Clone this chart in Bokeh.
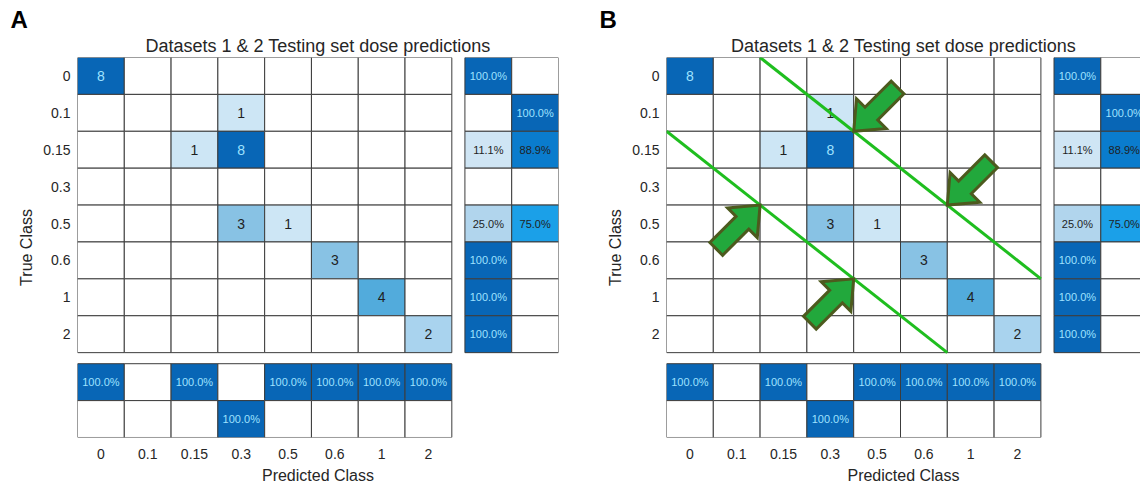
import numpy as np
from bokeh.plotting import figure
from bokeh.layouts import row
from bokeh.models import ColumnDataSource, FixedTicker, Range1d, Title
from bokeh.core.properties import value
from bokeh.embed import file_html
from bokeh.resources import INLINE

# ---------------- data ----------------
classes = ["0", "0.1", "0.15", "0.3", "0.5", "0.6", "1", "2"]
# counts[true class row][predicted class column]
counts = [
    [8, 0, 0, 0, 0, 0, 0, 0],
    [0, 0, 0, 1, 0, 0, 0, 0],
    [0, 0, 1, 8, 0, 0, 0, 0],
    [0, 0, 0, 0, 0, 0, 0, 0],
    [0, 0, 0, 3, 1, 0, 0, 0],
    [0, 0, 0, 0, 0, 3, 0, 0],
    [0, 0, 0, 0, 0, 0, 4, 0],
    [0, 0, 0, 0, 0, 0, 0, 2],
]
row_correct = [100.0, None, 11.1, None, 25.0, 100.0, 100.0, 100.0]
row_incorrect = [None, 100.0, 88.9, None, 75.0, None, None, None]
col_correct = [100.0, None, 100.0, None, 100.0, 100.0, 100.0, 100.0]
col_incorrect = [None, None, None, 100.0, None, None, None, None]
title_text = "Datasets 1 & 2 Testing set dose predictions"
panel_letters = ["A", "B"]
band_offsets = [-2, 2]            # guide lines: row = col + offset (panel B)
arrow_tips_upper = [(4, 2), (6, 4)]   # arrows pointing down-left onto upper guide
arrow_tips_lower = [(2, 4), (4, 6)]   # arrows pointing up-right onto lower guide

# ---------------- style ----------------
CW, CH = 46.8, 36.9          # pixel size of one cell
GAP_X, GAP_Y = 0.28, 0.30    # gap between matrix and summaries (cell units)
N = len(classes)
BORDER = "#3c3c3c"
DARK_TXT = "#1f1f1f"
LIGHT_TXT = "#9fe2ff"
FONT = "Liberation Sans"


def hex2rgb(h):
    h = h.lstrip("#")
    return np.array([int(h[i:i + 2], 16) for i in (0, 2, 4)], dtype=float)


def interp_color(v, stops):
    xs = [s[0] for s in stops]
    rgbs = np.array([hex2rgb(s[1]) for s in stops])
    rgb = [np.interp(v, xs, rgbs[:, k]) for k in range(3)]
    return "#%02x%02x%02x" % tuple(int(round(c)) for c in rgb)


count_stops = [(0, "#ffffff"), (0.125, "#cde6f5"), (0.25, "#a9d3ee"),
               (0.375, "#88c2e4"), (0.5, "#52abdc"), (1.0, "#0866b6")]
pct_stops = [(0, "#ffffff"), (11.1, "#cfe5f4"), (25, "#b1d5ed"),
             (75, "#1ba0e8"), (88.9, "#0a7ccd"), (100, "#0866b6")]


def make_panel(letter, width, mb_left, mb_right, x_end, guides, title_offset):
    p = figure(width=width, height=486,
               x_range=Range1d(0, x_end), y_range=Range1d(N + 2 + GAP_Y, 0),
               output_backend="svg", toolbar_location=None, title=letter,
               min_border_left=mb_left, min_border_right=mb_right,
               min_border_top=57, min_border_bottom=49)
    p.outline_line_color = None
    p.grid.visible = False
    p.background_fill_color = "white"
    p.border_fill_color = "white"

    # panel letter (outermost title row)
    p.title.text_font = FONT
    p.title.text_font_size = "24px"
    p.title.text_font_style = "bold"
    p.title.text_color = "black"
    p.title.align = "left"
    p.title.offset = -67
    p.title.standoff = 0

    # chart title (closest to the frame)
    p.add_layout(Title(text=title_text, align="center", offset=title_offset,
                       text_font=FONT, text_font_size="18px",
                       text_font_style="normal", text_color="#262626",
                       standoff=3), "above")

    ticks = [i + 0.5 for i in range(N)]
    overrides = {t: c for t, c in zip(ticks, classes)}
    for ax, lab in ((p.xaxis, "Predicted Class"), (p.yaxis, "True Class")):
        ax.ticker = FixedTicker(ticks=ticks)
        ax.major_label_overrides = overrides
        ax.axis_line_color = None
        ax.major_tick_line_color = None
        ax.minor_tick_line_color = None
        ax.major_tick_out = 0
        ax.major_label_text_font = FONT
        ax.major_label_text_font_size = "14px"
        ax.major_label_text_color = "#262626"
        ax.axis_label = lab
        ax.axis_label_text_font = FONT
        ax.axis_label_text_font_size = "16px"
        ax.axis_label_text_font_style = "normal"
        ax.axis_label_text_color = "#262626"
    p.xaxis.major_label_standoff = 11
    p.xaxis.axis_label_standoff = 5
    p.yaxis.major_label_standoff = 7
    p.yaxis.axis_label_standoff = 5

    # main matrix
    cmax = max(max(r) for r in counts)
    xs, ys, cols, txt, tcol, tx, ty = [], [], [], [], [], [], []
    for i in range(N):
        for j in range(N):
            v = counts[i][j]
            xs.append(j + 0.5)
            ys.append(i + 0.5)
            cols.append(interp_color(v / cmax, count_stops))
            if v > 0:
                tx.append(j + 0.5)
                ty.append(i + 0.5)
                txt.append(str(v))
                tcol.append(LIGHT_TXT if v / cmax >= 0.75 else DARK_TXT)
    p.rect(x="x", y="y", width=1, height=1, fill_color="c", line_color=BORDER,
           line_width=1, source=ColumnDataSource(dict(x=xs, y=ys, c=cols)))
    p.text(x="x", y="y", text="t", text_color="tc", text_align="center",
           text_baseline="middle", text_font=value(FONT), text_font_size="14px",
           source=ColumnDataSource(dict(x=tx, y=ty, t=txt, tc=tcol)))

    # summaries
    sx, sy, sc, st, stc, stx, sty = [], [], [], [], [], [], []

    def add(x, y, v):
        sx.append(x)
        sy.append(y)
        sc.append(interp_color(v if v is not None else 0, pct_stops))
        if v is not None:
            stx.append(x)
            sty.append(y)
            st.append("%.1f%%" % v)
            stc.append(LIGHT_TXT if v >= 95 else DARK_TXT)

    for i in range(N):
        add(N + GAP_X + 0.5, i + 0.5, row_correct[i])
        add(N + GAP_X + 1.5, i + 0.5, row_incorrect[i])
    for j in range(N):
        add(j + 0.5, N + GAP_Y + 0.5, col_correct[j])
        add(j + 0.5, N + GAP_Y + 1.5, col_incorrect[j])
    p.rect(x="x", y="y", width=1, height=1, fill_color="c", line_color=BORDER,
           line_width=1, source=ColumnDataSource(dict(x=sx, y=sy, c=sc)))
    p.text(x="x", y="y", text="t", text_color="tc", text_align="center",
           text_baseline="middle", text_font=value(FONT), text_font_size="11px",
           source=ColumnDataSource(dict(x=stx, y=sty, t=st, tc=stc)))

    if guides:
        x0, y0, x1, y1 = [], [], [], []
        for k in band_offsets:
            cs, ce = max(0, -k), min(N, N - k)
            x0.append(cs); y0.append(cs + k); x1.append(ce); y1.append(ce + k)
        p.segment(x0=x0, y0=y0, x1=x1, y1=y1, line_color="#1fbe1f", line_width=3)

        L, HL, HW, SW = 62.0, 25.0, 21.0, 9.0

        def arrow(tip, d):
            d = np.array(d, dtype=float)
            d /= np.linalg.norm(d)
            n = np.array([-d[1], d[0]])
            T = np.zeros(2)
            B = T - d * HL
            E = T - d * L
            pts = [T, B + n * HW, B + n * SW, E + n * SW, E - n * SW,
                   B - n * SW, B - n * HW]
            return ([tip[0] + q[0] / CW for q in pts],
                    [tip[1] + q[1] / CH for q in pts])

        axs, ays = [], []
        for t in arrow_tips_upper:
            a, b = arrow(t, (-1, 1))
            axs.append(a); ays.append(b)
        for t in arrow_tips_lower:
            a, b = arrow(t, (1, -1))
            axs.append(a); ays.append(b)
        p.patches(xs=axs, ys=ays, fill_color="#22a83c", line_color="#4d5a1e",
                  line_width=3, line_join="miter")
    return p


pa = make_panel(panel_letters[0], 580, 77, 22, 10.28, False, -6)
pb = make_panel(panel_letters[1], 560, 86, 0, 474 / CW, True, -2)
layout = row(pa, pb)
open("out.html", "w").write(file_html(layout, INLINE))
